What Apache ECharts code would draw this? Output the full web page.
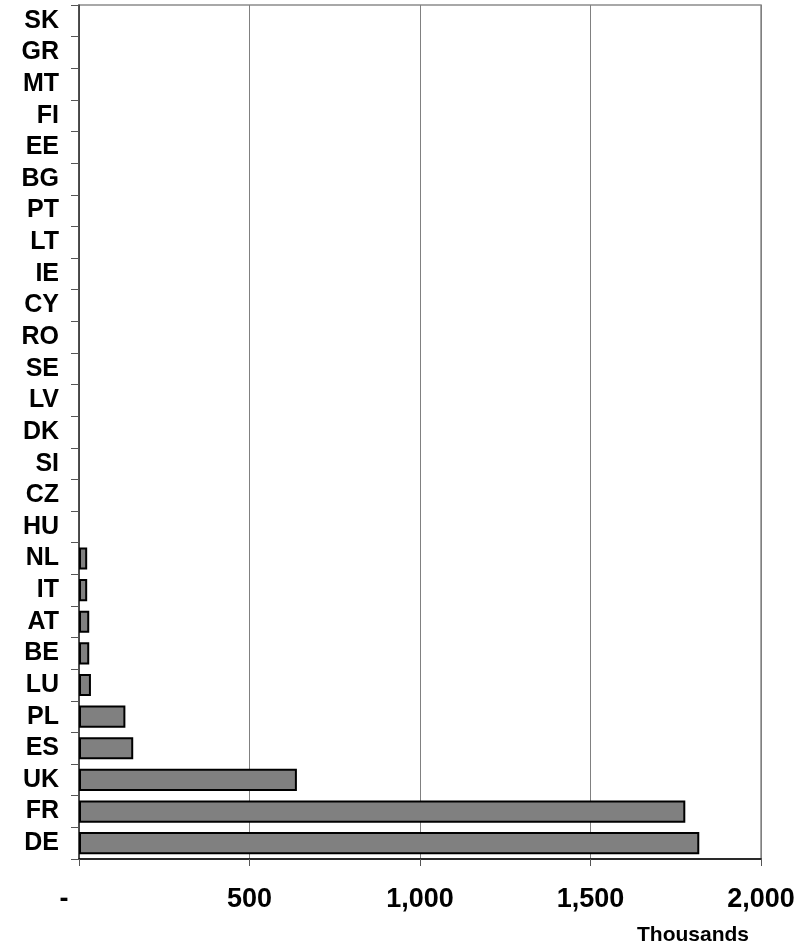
<!DOCTYPE html>
<html>
<head>
<meta charset="utf-8">
<script src="https://cdn.jsdelivr.net/npm/echarts@6/dist/echarts.min.js"></script>
<style>
html,body{margin:0;padding:0;background:#fff;}
#chart{width:811px;height:944px;}
</style>
</head>
<body>
<div id="chart"></div>
<script>
// Categories listed bottom to top
const categories = ['DE','FR','UK','ES','PL','LU','BE','AT','IT','NL','HU','CZ','SI','DK','LV','SE','RO','CY','IE','LT','PT','BG','EE','FI','MT','GR','SK'];
const values = [1819,1778,639,159,136,35,30,30,24,24,0,0,0,0,0,0,0,0,0,0,0,0,0,0,0,0,0];
const xTicks = [0,500,1000,1500,2000];
const axisUnit = 'Thousands';

const chart = echarts.init(document.getElementById('chart'), null, {renderer:'canvas'});
const FONT = 'Liberation Sans, Arial, sans-serif';

chart.setOption({
  animation:false,
  backgroundColor:'#ffffff',
  title:{
    text:axisUnit,
    left:632, top:920,
    textStyle:{fontFamily:FONT,fontWeight:'bold',fontSize:21,color:'#000'}
  },
  grid:{
    left:79, right:50, top:5, bottom:85,
    show:true, borderColor:'#8c8c8c', borderWidth:1.5, backgroundColor:'transparent'
  },
  xAxis:{
    type:'value',
    min:xTicks[0], max:xTicks[xTicks.length-1], interval:500,
    axisLine:{show:true,lineStyle:{color:'#000',width:1.5}},
    axisTick:{show:true,inside:false,length:7,lineStyle:{color:'#555',width:1}},
    splitLine:{show:true,lineStyle:{color:'#808080',width:1}},
    axisLabel:{
      margin:27,
      fontFamily:FONT,fontWeight:'bold',fontSize:27,color:'#000',
      formatter:function(v){
        if(v===0) return '{dash|-}';
        return v.toLocaleString('en-US');
      },
      rich:{dash:{fontFamily:FONT,fontWeight:'bold',fontSize:27,color:'#000',padding:[0,30,0,0]}}
    }
  },
  yAxis:{
    type:'category',
    data:categories,
    axisLine:{show:true,lineStyle:{color:'#333',width:1.5}},
    axisTick:{show:true,inside:false,length:8,interval:0,alignWithLabel:false,lineStyle:{color:'#555',width:1}},
    splitLine:{show:false},
    axisLabel:{interval:0,hideOverlap:false,margin:20,fontFamily:FONT,fontWeight:'bold',fontSize:25,color:'#000'}
  },
  series:[{
    type:'bar',
    data:values.map(v => v===0 ? null : v),
    barCategoryGap:'30%',
    itemStyle:{color:'#808080',borderColor:'#000',borderWidth:2}
  }]
});
</script>
</body>
</html>
